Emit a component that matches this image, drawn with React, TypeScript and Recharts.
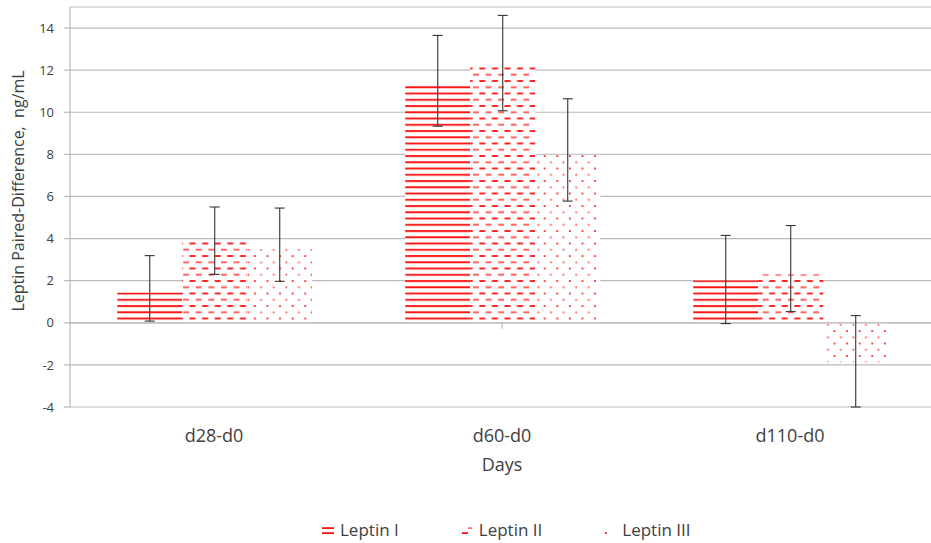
import React from 'react';
import {
  BarChart, Bar, XAxis, YAxis, CartesianGrid, ErrorBar, ReferenceLine, Label
} from 'recharts';

// values
const days = ['d28-d0', 'd60-d0', 'd110-d0'];
const leptinI = [1.44, 11.27, 2.01];
const leptinII = [3.84, 12.17, 2.3];
const leptinIII = [3.5, 7.98, -1.88];
// error bar extents (below / above the bar value)
const errLowI = [1.36, 1.93, 2.05];
const errHighI = [1.75, 2.38, 2.14];
const errLowII = [1.54, 2.1, 1.77];
const errHighII = [1.66, 2.43, 2.32];
const errLowIII = [1.53, 2.2, 2.12];
const errHighIII = [1.95, 2.66, 2.22];
const yTicks = [-4, -2, 0, 2, 4, 6, 8, 10, 12, 14];

const Y_MIN = -4;
const Y_MAX = 15;
const GRID = '#b9b9b9';
const TEXT = '#404040';
const RED = '#ff1010';
const FONT = '"Open Sans", sans-serif';

const data = days.map((day, i) => ({
  day,
  l1: leptinI[i],
  l2: leptinII[i],
  l3: leptinIII[i],
  e1: [errLowI[i], errHighI[i]],
  e2: [errLowII[i], errHighII[i]],
  e3: [errLowIII[i], errHighIII[i]],
}));

const series = [
  { key: 'l1', err: 'e1', name: 'Leptin I', fill: 'url(#patLines)' },
  { key: 'l2', err: 'e2', name: 'Leptin II', fill: 'url(#patDashes)' },
  { key: 'l3', err: 'e3', name: 'Leptin III', fill: 'url(#patDots)' },
];

const LegendKey = ({ idx }: { idx: number }) => (
  <svg width={12} height={20} style={{ display: 'block' }}>
    {idx === 0 && (
      <>
        <rect x={0} y={7.2} width={12} height={1.8} fill={RED} />
        <rect x={0} y={12.2} width={12} height={1.8} fill={RED} />
      </>
    )}
    {idx === 1 && (
      <>
        <rect x={1} y={12.2} width={6} height={1.8} fill={RED} />
        <rect x={7} y={7.4} width={4} height={1.4} fill={RED} opacity={0.7} />
      </>
    )}
    {idx === 2 && <rect x={1} y={12.2} width={1.8} height={1.8} fill={RED} />}
  </svg>
);

const App: React.FC = () => {
  return (
    <div style={{ position: 'absolute', left: 0, top: 0, width: 931, height: 543, overflow: 'hidden', background: '#fff' }}>
      <BarChart
        width={934}
        height={543}
        data={data}
        margin={{ top: 7, right: 0, bottom: 0, left: 0 }}
        barCategoryGap="16.4%"
        barGap={0}
        style={{ fontFamily: FONT }}
      >
        <defs>
          <pattern id="patLines" patternUnits="userSpaceOnUse" x={0} y={5} width={8} height={6.25}>
            <rect x={0} y={0} width={8} height={6.25} fill="#fff" />
            <rect x={0} y={0.1} width={8} height={1.9} fill={RED} />
          </pattern>
          <pattern id="patDashes" patternUnits="userSpaceOnUse" x={0} y={5} width={12.6} height={12.5}>
            <rect x={0} y={0} width={12.6} height={12.5} fill="#fff" />
            <rect x={0.5} y={0.1} width={6} height={1.8} fill={RED} />
            <rect x={6.8} y={6.35} width={6} height={1.8} fill={RED} opacity={0.75} />
          </pattern>
          <pattern id="patDots" patternUnits="userSpaceOnUse" x={0} y={5} width={12.6} height={12.5}>
            <rect x={0} y={0} width={12.6} height={12.5} fill="#fff" />
            <rect x={2} y={0.2} width={1.7} height={1.7} fill={RED} />
            <rect x={8.3} y={6.45} width={1.7} height={1.7} fill={RED} opacity={0.8} />
          </pattern>
        </defs>
        <CartesianGrid vertical={false} stroke={GRID} strokeWidth={1.2} />
        <XAxis
          dataKey="day"
          height={136}
          axisLine={false}
          tickLine={false}
          tickSize={0}
          tickMargin={22}
          tick={{ fill: TEXT, fontSize: 18, fontFamily: FONT }}
        >
          <Label value="Days" position="insideBottom" offset={72} fill={TEXT} fontSize={18} fontFamily={FONT} />
        </XAxis>
        <XAxis xAxisId="n" type="number" domain={[0, 3]} hide />
        <YAxis
          width={70}
          domain={[Y_MIN, Y_MAX]}
          ticks={yTicks}
          interval={0}
          allowDataOverflow
          axisLine={{ stroke: GRID, strokeWidth: 1.2 }}
          tickLine={{ stroke: GRID, strokeWidth: 1.2 }}
          tickSize={6}
          tickMargin={10}
          tick={{ fill: TEXT, fontSize: 13, fontFamily: FONT }}
        >
          <Label
            content={() => (
              <text
                x={24}
                y={191}
                transform="rotate(-90 24 191)"
                textAnchor="middle"
                fill={TEXT}
                fontSize={16}
                fontFamily={FONT}
              >
                {'Leptin Paired-Difference,\u00a0 ng/mL'}
              </text>
            )}
          />
        </YAxis>
        <ReferenceLine y={0} stroke={GRID} strokeWidth={1.2} />
        <ReferenceLine xAxisId="n" segment={[{ x: 1, y: 0 }, { x: 1, y: -0.28 }]} stroke={GRID} strokeWidth={1.2} />
        <ReferenceLine xAxisId="n" segment={[{ x: 2, y: 0 }, { x: 2, y: -0.28 }]} stroke={GRID} strokeWidth={1.2} />
        {series.map((s) => (
          <Bar key={s.key} dataKey={s.key} name={s.name} fill={s.fill} isAnimationActive={false}>
            <ErrorBar dataKey={s.err} width={5} stroke="#333" strokeWidth={1.1} direction="y" isAnimationActive={false} />
          </Bar>
        ))}
      </BarChart>

      <div
        style={{
          position: 'absolute',
          top: 520,
          left: 322,
          display: 'flex',
          gap: 62,
          fontFamily: FONT,
          fontSize: 17,
          lineHeight: '20px',
          color: TEXT,
        }}
      >
        {series.map((s, i) => (
          <div key={s.key} style={{ display: 'flex', alignItems: 'flex-start', gap: 6 }}>
            <LegendKey idx={i} />
            <span style={{ whiteSpace: 'nowrap' }}>{s.name}</span>
          </div>
        ))}
      </div>
    </div>
  );
};

export default App;
